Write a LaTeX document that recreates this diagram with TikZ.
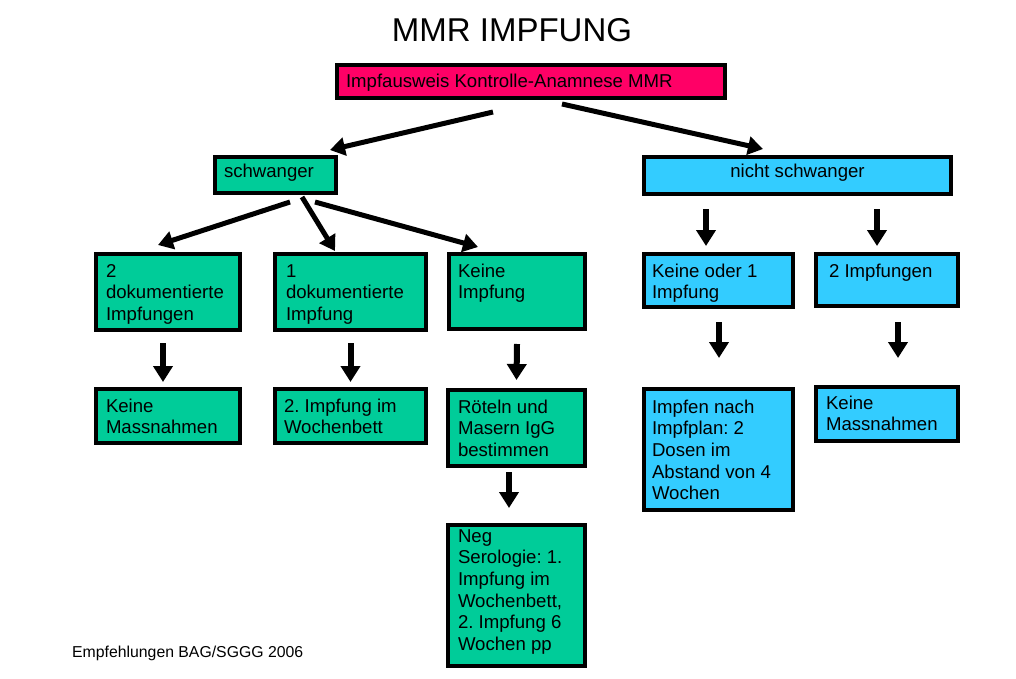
\documentclass[tikz,border=0pt]{standalone}
\usepackage{fontspec}
\setmainfont{Liberation Sans}
\usetikzlibrary{arrows.meta}
\definecolor{pinkbox}{HTML}{FF0066}
\definecolor{greenbox}{HTML}{00CC99}
\definecolor{bluebox}{HTML}{33CCFF}
\frenchspacing
% name, x, y, w, h, fill, first-baseline, xsep, text
\newcommand\flowbox[9]{%
  \node[boxst, fill=#6, inner xsep=#8pt, minimum width=#4pt, minimum height=#5pt, anchor=north west] (#1) at (#2,#3)
  {\parbox[c][#5pt][t]{\dimexpr#4pt-#8pt*2\relax}{\raggedright\frenchspacing\rule{0pt}{#7pt}#9}};}
\begin{document}
\begin{tikzpicture}[x=1pt,y=-1pt,
  boxst/.style={draw=black, line width=4pt, inner ysep=0pt, outer sep=0pt,
    font=\fontsize{18.6}{21.7}\selectfont, text=black},
  arr/.style={line width=5pt, -{Triangle[width=18pt,length=15pt]}},
  varr/.style={line width=6pt, -{Triangle[width=19pt,length=16pt]}}]
\useasboundingbox (0,0) rectangle (1016,679);

\node[anchor=base, font=\fontsize{33}{36}\selectfont] (title) at (512,42) {MMR IMPFUNG};
\node[anchor=base west, font=\fontsize{15.8}{18}\selectfont, inner sep=0pt] (foot) at (72,657) {Empfehlungen BAG/SGGG 2006};

\flowbox{top}{337}{65}{388}{33}{pinkbox}{23}{9}{Impfausweis Kontrolle-Anamnese MMR}
\flowbox{schw}{215}{157}{121}{36}{greenbox}{20}{9}{schwanger}
\flowbox{nicht}{644}{157}{307}{37}{bluebox}{21}{9}{\centering nicht schwanger}

\flowbox{A}{96}{254}{144}{76}{greenbox}{23}{10}{2\\dokumentierte\\Impfungen}
\flowbox{B}{275}{254}{151}{76}{greenbox}{23}{11}{1\\dokumentierte\\Impfung}
\flowbox{C}{449}{254}{136}{75}{greenbox}{23}{9}{Keine\\Impfung}
\flowbox{D}{644}{254}{149}{53}{bluebox}{23}{8}{Keine oder 1\\Impfung}
\flowbox{E}{816}{254}{142}{52}{bluebox}{23}{13}{2 Impfungen}

\flowbox{F}{96}{389}{144}{54}{greenbox}{23}{10}{Keine\\Massnahmen}
\flowbox{G}{275}{389}{151}{54}{greenbox}{23}{9}{2. Impfung im\\Wochenbett}
\flowbox{H}{448}{390}{137}{76}{greenbox}{23}{10}{Röteln und\\Masern IgG\\bestimmen}
\flowbox{I}{448}{525}{137}{141}{greenbox}{17}{10}{Neg\\Serologie: 1.\\Impfung im\\Wochenbett,\\2. Impfung 6\\Wochen pp}
\flowbox{J}{644}{389}{149}{121}{bluebox}{24}{8}{Impfen nach\\Impfplan: 2\\Dosen im\\Abstand von 4\\Wochen}
\flowbox{K}{816}{387}{142}{54}{bluebox}{22}{10}{Keine\\Massnahmen}

% diagonal arrows
\draw[arr] ([shift={(-38,14)}]top.south) -- ([shift={(-6,-7)}]schw.north east);
\draw[arr] ([shift={(31,6)}]top.south) -- ([shift={(-34.5,-8)}]nicht.north);
\draw[arr] ([shift={(14.5,9)}]schw.south) -- ([shift={(-10,-9)}]A.north);
\draw[arr] ([shift={(26.5,4)}]schw.south) -- ([shift={(-15.5,-3)}]B.north);
\draw[arr] ([shift={(39.5,9)}]schw.south) -- ([shift={(-39,-7)}]C.north);

% vertical arrows
\draw[varr] ([shift={(-5,13)}]A.south) -- ([shift={(-5,-7)}]F.north);
\draw[varr] ([shift={(0,13)}]B.south) -- ([shift={(0,-7)}]G.north);
\draw[varr] ([shift={(0,15)}]C.south) -- ([shift={(0,-10)}]H.north);
\draw[varr] ([shift={(-7.5,6)}]H.south) -- ([shift={(-7.5,-17)}]I.north);
\draw[varr] ([shift={(-12.5,-45)}]D.north) -- ([shift={(-12.5,-8)}]D.north);
\draw[varr] ([shift={(-10,-45)}]E.north) -- ([shift={(-10,-8)}]E.north);
\draw[varr] ([shift={(0.5,15)}]D.south) -- ([shift={(0.5,-31)}]J.north);
\draw[varr] ([shift={(11,16)}]E.south) -- ([shift={(11,-29)}]K.north);
\end{tikzpicture}
\end{document}
